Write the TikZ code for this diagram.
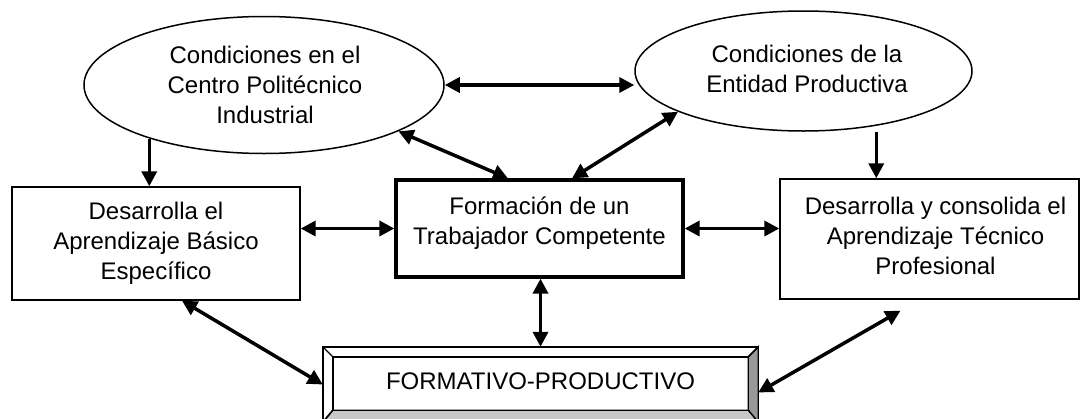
\documentclass[tikz,border=0pt]{standalone}
\usepackage{fontspec}
\setmainfont{Liberation Sans}
\usetikzlibrary{shapes.geometric, arrows.meta, positioning}
\tikzstyle{arrow} = [line width=3.5pt,<->,>={Triangle[length=15pt,width=15pt]}]
\tikzstyle{down} = [line width=3.5pt,->,>={Triangle[length=15pt,width=15pt]}]
\tikzstyle{cond} = [ellipse, draw, line width=1.5pt, inner sep=0pt]
\tikzstyle{box} = [rectangle, draw, line width=1.4pt, inner sep=0pt]
\tikzstyle{txt} = [align=center, font=\fontsize{24}{30}\selectfont, inner sep=0pt]

\begin{document}
\begin{tikzpicture}[x=1pt,y=-1pt]
  \useasboundingbox (0,0) rectangle (1081,418);
  \node[cond, minimum width=360pt, minimum height=137pt] (CPI) at (264,85) {};
  \node[txt] at ([xshift=1pt]CPI.center) {Condiciones en el\\Centro Politécnico\\Industrial};
  \node[cond, minimum width=337pt, minimum height=120pt] (EP) at (803.5,71) {};
  \node[txt] at ([xshift=3.5pt,yshift=2.5pt]EP.center) {Condiciones de la\\Entidad Productiva};
  \node[box, minimum width=288pt, minimum height=113pt] (ABE) at (156,243.5) {};
  \node[txt] at (ABE.center) {Desarrolla el\\Aprendizaje Básico\\Específico};
  \node[box, line width=3.3pt, minimum width=287pt, minimum height=97pt] (FTC) at (539.5,228.5) {};
  \node[txt] at ([yshift=5pt]FTC.center) {Formación de un\\Trabajador Competente};
  \node[box, minimum width=299pt, minimum height=120pt] (ATP) at (929.5,239) {};
  \node[txt] at ([xshift=6pt,yshift=3pt]ATP.center) {Desarrolla y consolida el\\Aprendizaje Técnico\\Profesional};
  % bisel del recuadro inferior
  \node[minimum width=435pt, minimum height=75pt, inner sep=0pt] (FP) at (540.5,384.5) {};
  \coordinate (i1) at ([xshift=10pt,yshift=-10pt]FP.north west);
  \coordinate (i2) at ([xshift=-10pt,yshift=-10pt]FP.north east);
  \coordinate (i3) at ([xshift=-10pt,yshift=12pt]FP.south east);
  \coordinate (i4) at ([xshift=10pt,yshift=12pt]FP.south west);
  \filldraw[fill=black!40, line width=1.4pt] (FP.north east) -- (FP.south east) -- (i3) -- (i2) -- cycle;
  \filldraw[fill=black!22, line width=1.4pt] (FP.south west) -- (FP.south east) -- (i3) -- (i4) -- cycle;
  \draw[line width=1.4pt] (FP.north west) rectangle (FP.south east);
  \draw[line width=1.4pt] (i1) rectangle (i3);
  \draw[line width=1.4pt] (FP.north west) -- (i1) (FP.north east) -- (i2) (FP.south west) -- (i4);
  \node[txt] at ([yshift=3pt]FP.center) {FORMATIVO-PRODUCTIVO};
  % flechas
  \draw[arrow] (CPI.east) -- (CPI.east -| EP.west);
  \draw[down] (CPI.205) -- (CPI.205 |- ABE.north);
  \draw[down, shorten <=6pt] (EP.323) -- (EP.323 |- ATP.north);
  \draw[arrow] (CPI.341) -- ([xshift=-31.5pt]FTC.north);
  \draw[arrow] (EP.198) -- ([xshift=32.5pt]FTC.north);
  \draw[arrow] (FTC.west) -- (FTC.west -| ABE.east);
  \draw[arrow] (FTC.east) -- (FTC.east -| ATP.west);
  \draw[arrow] (FP.north) -- (FP.north |- FTC.south);
  \draw[arrow] ([xshift=26pt]ABE.south) -- (FP.west);
  \draw[arrow] ([xshift=-29pt,yshift=-11pt]ATP.south) -- ([yshift=-8pt]FP.east);
\end{tikzpicture}
\end{document}
